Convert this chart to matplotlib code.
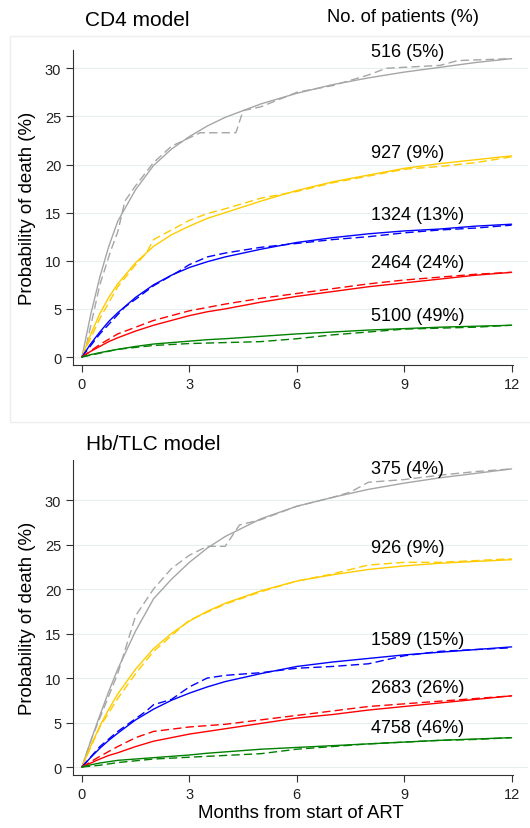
import matplotlib
matplotlib.use("Agg")
import matplotlib.pyplot as plt
from matplotlib.patches import Rectangle

plt.rcParams['font.family'] = ['Liberation Sans', 'DejaVu Sans']

colors = ['#a6a6a6', '#ffcc00', '#0000ff', '#ff0000', '#008000']

# months grid for predicted (solid) curves
t_pred = [0, 0.25, 0.5, 0.75, 1, 1.5, 2, 2.5, 3, 3.5, 4, 5, 6, 7, 8, 9, 10, 11, 12]

# ---- CD4 model ----
cd4_labels = ['516 (5%)', '927 (9%)', '1324 (13%)', '2464 (24%)', '5100 (49%)']
cd4_label_y = [31.7, 21.3, 14.85, 9.86, 4.36]
cd4_pred = [
    [0, 4.5, 8.3, 11.5, 14.1, 17.4, 19.9, 21.6, 22.9, 24.0, 24.9, 26.3, 27.4, 28.3, 29.0, 29.6, 30.1, 30.6, 31.0],
    [0, 2.4, 4.5, 6.2, 7.6, 9.8, 11.5, 12.7, 13.6, 14.4, 15.0, 16.2, 17.3, 18.2, 18.9, 19.6, 20.1, 20.5, 20.9],
    [0, 1.4, 2.6, 3.7, 4.6, 6.2, 7.5, 8.5, 9.3, 9.9, 10.4, 11.2, 11.9, 12.4, 12.8, 13.1, 13.3, 13.6, 13.8],
    [0, 0.6, 1.1, 1.6, 2.0, 2.7, 3.3, 3.8, 4.3, 4.7, 5.0, 5.7, 6.3, 6.8, 7.3, 7.7, 8.1, 8.5, 8.8],
    [0, 0.25, 0.45, 0.63, 0.8, 1.1, 1.35, 1.5, 1.65, 1.8, 1.9, 2.15, 2.4, 2.6, 2.8, 2.95, 3.1, 3.2, 3.3],
]
cd4_obs_t = [
    [0, 0.1, 0.5, 0.8, 1.0, 1.2, 1.5, 2, 2.5, 2.9, 3.3, 4.3, 4.5, 5, 6, 7, 8, 8.5, 10, 10.5, 12],
    [0, 0.5, 1, 1.5, 1.8, 2, 2.5, 3, 3.5, 4, 5, 6, 7, 8, 9, 10, 11, 12],
    [0, 0.5, 1, 1.2, 1.5, 2, 2.7, 3, 3.5, 4, 5, 6, 7, 8, 9, 10, 11, 12],
    [0, 0.5, 1, 2, 3, 4, 5, 6, 7, 8, 9, 10, 11, 12],
    [0, 1, 2, 3, 4, 5, 6, 7, 8, 9, 10, 11, 12],
]
cd4_obs = [
    [0, 0.8, 7.5, 11.0, 13.0, 16.2, 17.8, 20.2, 21.9, 22.6, 23.3, 23.3, 25.6, 26.0, 27.5, 28.2, 29.3, 30.0, 30.3, 30.8, 31.0],
    [0, 4.0, 7.3, 9.6, 10.8, 12.2, 13.2, 14.2, 14.9, 15.4, 16.5, 17.2, 18.1, 18.8, 19.5, 19.8, 20.2, 20.8],
    [0, 2.4, 4.4, 5.2, 6.0, 7.4, 8.9, 9.6, 10.4, 10.8, 11.4, 11.8, 12.2, 12.5, 12.9, 13.2, 13.4, 13.7],
    [0, 1.3, 2.4, 3.8, 4.8, 5.5, 6.1, 6.6, 7.1, 7.6, 8.0, 8.3, 8.6, 8.8],
    [0, 0.8, 1.2, 1.4, 1.5, 1.6, 1.9, 2.3, 2.6, 2.9, 3.0, 3.1, 3.3],
]

# ---- Hb/TLC model ----
hb_labels = ['375 (4%)', '926 (9%)', '1589 (15%)', '2683 (26%)', '4758 (46%)']
hb_label_y = [33.6, 24.7, 14.3, 8.9, 4.4]
hb_pred = [
    [0, 3.0, 5.8, 8.5, 11.0, 15.3, 18.9, 21.1, 23.0, 24.6, 25.9, 27.9, 29.3, 30.3, 31.2, 31.9, 32.5, 33.0, 33.5],
    [0, 2.4, 4.6, 6.5, 8.2, 11.0, 13.3, 15.0, 16.4, 17.5, 18.4, 19.8, 20.9, 21.6, 22.2, 22.6, 22.9, 23.1, 23.3],
    [0, 1.1, 2.1, 3.0, 3.8, 5.3, 6.5, 7.5, 8.3, 9.0, 9.6, 10.5, 11.3, 11.8, 12.2, 12.6, 12.9, 13.2, 13.5],
    [0, 0.45, 0.9, 1.3, 1.6, 2.3, 2.9, 3.3, 3.7, 4.0, 4.3, 4.9, 5.5, 5.9, 6.4, 6.8, 7.2, 7.6, 8.0],
    [0, 0.25, 0.45, 0.6, 0.75, 0.9, 1.05, 1.2, 1.35, 1.55, 1.7, 2.0, 2.2, 2.4, 2.6, 2.8, 3.0, 3.15, 3.3],
]
hb_obs_t = [
    [0, 0.3, 0.8, 1.0, 1.5, 2, 2.5, 3, 3.5, 4.0, 4.4, 5, 6, 7, 7.5, 8, 9, 10, 11, 12],
    [0, 0.5, 1, 1.5, 2, 3, 4, 5, 6, 7, 8, 9, 10, 11, 12],
    [0, 0.5, 1, 1.8, 2, 2.5, 3, 3.5, 4, 5, 6, 7, 8, 9, 10, 11, 12],
    [0, 0.5, 1, 1.5, 2, 3, 4, 5, 6, 7, 8, 9, 10, 11, 12],
    [0, 0.5, 1, 2, 3, 4, 5, 6, 7, 8, 9, 10, 11, 12],
]
hb_obs = [
    [0, 3.5, 8.5, 10.5, 17.0, 20.0, 22.3, 23.8, 24.8, 24.8, 27.2, 27.8, 29.3, 30.3, 30.9, 32.0, 32.3, 32.8, 33.2, 33.5],
    [0, 4.5, 7.7, 10.5, 13.0, 16.5, 18.3, 19.7, 20.9, 21.7, 22.7, 23.0, 23.0, 23.2, 23.4],
    [0, 2.3, 4.0, 6.3, 7.0, 7.6, 9.0, 10.0, 10.3, 10.6, 11.1, 11.3, 11.6, 12.5, 13.0, 13.2, 13.4],
    [0, 1.2, 2.3, 3.3, 4.0, 4.5, 4.8, 5.3, 5.8, 6.3, 6.8, 7.1, 7.4, 7.7, 8.0],
    [0, 0.2, 0.5, 0.9, 1.1, 1.3, 1.5, 2.0, 2.3, 2.6, 2.8, 3.0, 3.1, 3.3],
]

xticks = [0, 3, 6, 9, 12]


def draw(ax, pred, obs_t, obs, labels, label_y, ylim, yticks):
    for c, p, ot, o, lab, ly in zip(colors, pred, obs_t, obs, labels, label_y):
        ax.plot(t_pred, p, color=c, lw=1.0, solid_capstyle='round')
        ax.plot(ot, o, color=c, lw=1.0, ls=(0, (6, 3)))
        ax.text(8.07, ly, lab, fontsize=13, va='center', ha='left')
    ax.set_xlim(-0.25, 12.45)
    ax.set_ylim(*ylim)
    ax.set_xticks(xticks)
    ax.set_yticks(yticks)
    ax.grid(axis='y', color='#e6eff0', lw=0.8)
    ax.set_axisbelow(True)
    for s in ['top', 'right']:
        ax.spines[s].set_visible(False)
    ax.spines['bottom'].set_bounds(-0.25, 12.03)
    ax.spines['left'].set_color('#333333')
    ax.spines['bottom'].set_color('#333333')
    ax.tick_params(labelsize=10.5, length=5, color='#333333', labelcolor='#222222')
    ax.set_ylabel('Probability of death (%)', fontsize=13.4, labelpad=6)


fig = plt.figure(figsize=(5.3, 8.29), dpi=100)

# faint frame round the upper graph
fig.patches.append(Rectangle((10 / 530, 1 - 423 / 829), 525 / 530, 386 / 829,
                             transform=fig.transFigure, fill=False,
                             edgecolor='#eeeeee', lw=1))

ax1 = fig.add_axes([0.1377, 0.5585, 0.858, 0.38])
draw(ax1, cd4_pred, cd4_obs_t, cd4_obs, cd4_labels, cd4_label_y,
     (-0.83, 31.9), [0, 5, 10, 15, 20, 25, 30])

ax2 = fig.add_axes([0.1377, 0.0639, 0.858, 0.38])
draw(ax2, hb_pred, hb_obs_t, hb_obs, hb_labels, hb_label_y,
     (-0.9, 34.5), [0, 5, 10, 15, 20, 25, 30])
ax2.set_xlabel('Months from start of ART', fontsize=13.4, labelpad=2)

fig.text(85 / 530, 1 - 20 / 829, 'CD4 model', fontsize=15, va='center', ha='left')
fig.text(327 / 530, 1 - 18 / 829, 'No. of patients (%)', fontsize=13.2, va='center', ha='left')
fig.text(86 / 530, 1 - 445 / 829, 'Hb/TLC model', fontsize=15, va='center', ha='left')

fig.savefig('out.png', dpi=100)
